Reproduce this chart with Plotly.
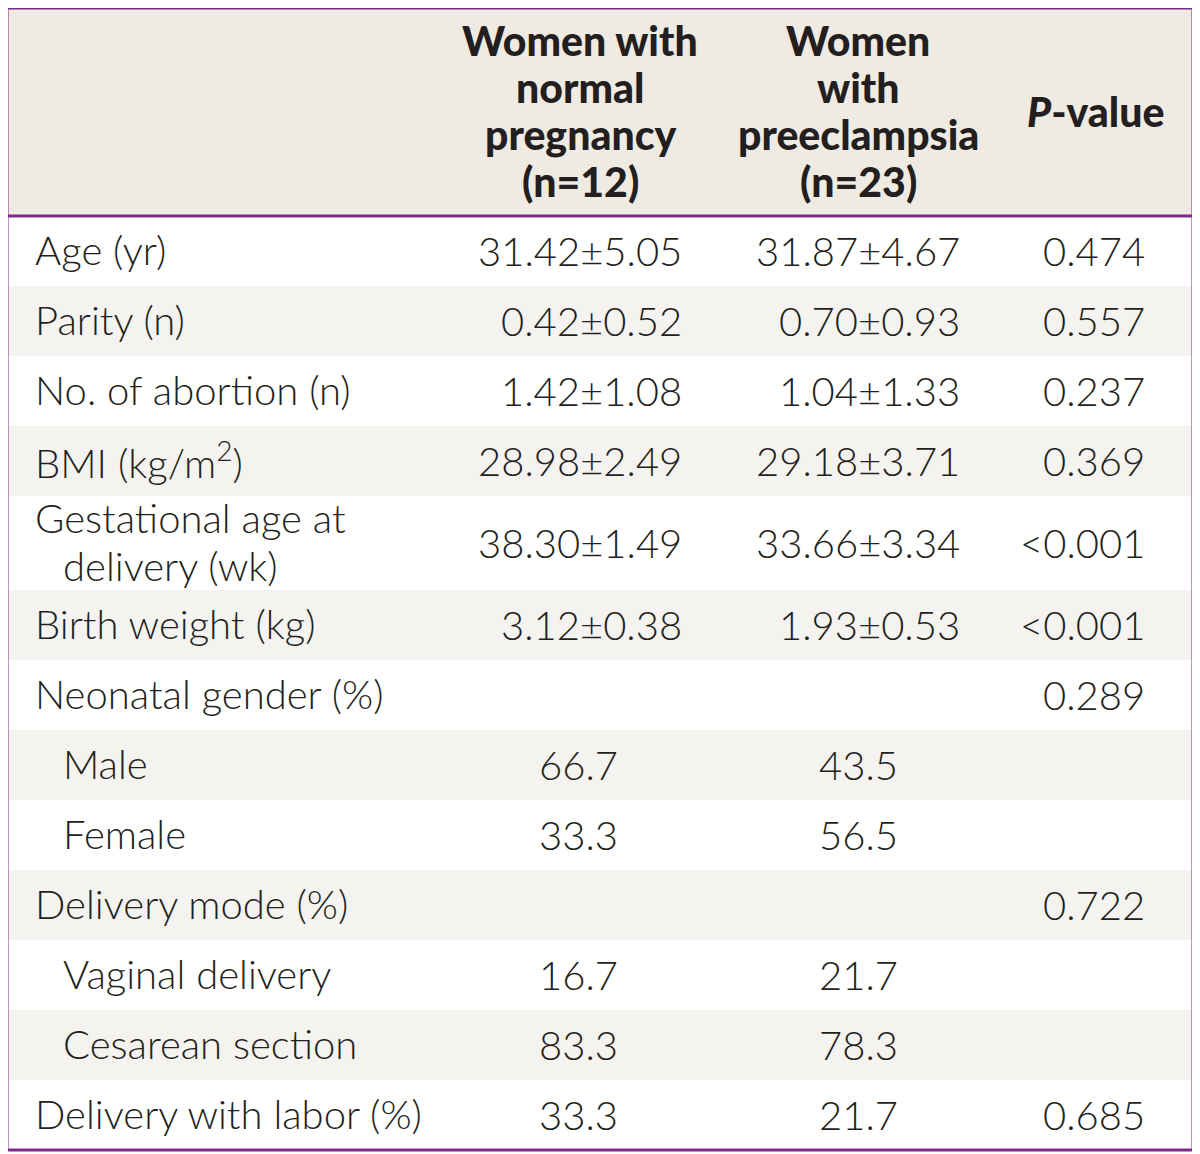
import plotly.graph_objects as go

# ---------------- data ----------------
header_cols = ["", "Women with<br>normal<br>pregnancy<br>(n=12)",
               "Women<br>with<br>preeclampsia<br>(n=23)", "<i>P</i>-value"]
row_labels = ["Age (yr)", "Parity (n)", "No. of abortion (n)", "BMI (kg/m<sup>2</sup>)",
              "Gestational age at<br>delivery (wk)", "Birth weight (kg)", "Neonatal gender (%)",
              "Male", "Female", "Delivery mode (%)", "Vaginal delivery", "Cesarean section",
              "Delivery with labor (%)"]
row_indent = [0, 0, 0, 0, 0, 0, 0, 1, 1, 0, 1, 1, 0]
normal_vals = ["31.42±5.05", "0.42±0.52", "1.42±1.08", "28.98±2.49", "38.30±1.49", "3.12±0.38",
               "", "66.7", "33.3", "", "16.7", "83.3", "33.3"]
pe_vals = ["31.87±4.67", "0.70±0.93", "1.04±1.33", "29.18±3.71", "33.66±3.34", "1.93±0.53",
           "", "43.5", "56.5", "", "21.7", "78.3", "21.7"]
p_vals = ["0.474", "0.557", "0.237", "0.369", "<0.001", "<0.001", "0.289",
          "", "", "0.722", "", "", "0.685"]

# ---------------- style / layout ----------------
W, H = 1200, 1154
OFF = 8  # page body margin compensation
LEFT, RIGHT, TOP = 7, 1193, 8
HEADER_H = 208
ROW_H = 70
TALL_H = 94
FONT = "Lato"
FS = 40
HFS = 41
TXT = "#231f20"
PURPLE = "#7b2d88"
HEAD_BG = "#efebe3"
ALT_BG = "#f5f3ef"

body_font = dict(family=FONT, size=FS, color=TXT, weight=300)
head_font = dict(family=FONT, size=HFS, color=TXT, weight=900)

fig = go.Figure()
fig.add_trace(go.Scatter(x=[OFF + 1, W - 1], y=[OFF + 1, H - 1], mode="markers",
                         marker=dict(opacity=0), hoverinfo="skip", showlegend=False))

shapes = []
ann = []

# header
shapes.append(dict(type="rect", x0=LEFT, x1=RIGHT, y0=TOP, y1=TOP + HEADER_H,
                   fillcolor=HEAD_BG, line=dict(width=0), layer="below"))
head_x = [None, 580, 858, 1095]
HEAD_LS = 47
head_center = 111
for i, h in enumerate(header_cols):
    if not h:
        continue
    lines = h.split("<br>")
    n = len(lines)
    for k, ln in enumerate(lines):
        ann.append(dict(x=head_x[i], y=head_center + (k - (n - 1) / 2) * HEAD_LS,
                        text=ln, showarrow=False, xanchor="center", yanchor="middle",
                        font=head_font))

# body rows
y = TOP + HEADER_H
for r, lab in enumerate(row_labels):
    lines = lab.split("<br>")
    h = TALL_H if len(lines) > 1 else ROW_H
    if r % 2 == 1:
        shapes.append(dict(type="rect", x0=LEFT, x1=RIGHT, y0=y, y1=y + h,
                           fillcolor=ALT_BG, line=dict(width=0), layer="below"))
    yc = y + h / 2
    n = len(lines)
    for k, ln in enumerate(lines):
        indent = 1 if (row_indent[r] or k > 0) else 0
        ly = yc + (k - (n - 1) / 2) * 48 - 1
        ann.append(dict(x=33 + 28 * indent, y=ly, text=ln, showarrow=False,
                        xanchor="left", yanchor="middle", font=body_font))
    for vals, xr, xc in ((normal_vals, 684, 578), (pe_vals, 962, 858)):
        v = vals[r]
        if not v:
            continue
        if "±" in v:
            ann.append(dict(x=xr, y=yc, text=v, showarrow=False, xanchor="right",
                            yanchor="middle", font=body_font))
        else:
            ann.append(dict(x=xc, y=yc, text=v, showarrow=False, xanchor="center",
                            yanchor="middle", font=body_font))
    if p_vals[r]:
        ann.append(dict(x=1147, y=yc, text=p_vals[r], showarrow=False, xanchor="right",
                        yanchor="middle", font=body_font))
    y += h

BOTTOM = y
shapes.append(dict(type="line", x0=LEFT, x1=RIGHT, y0=TOP + HEADER_H, y1=TOP + HEADER_H,
                   line=dict(color=PURPLE, width=3)))
shapes.append(dict(type="rect", x0=LEFT, x1=RIGHT, y0=TOP, y1=BOTTOM,
                   line=dict(color=PURPLE, width=3), fillcolor="rgba(0,0,0,0)"))

fig.update_layout(
    width=W, height=H, margin=dict(l=0, r=0, t=0, b=0),
    paper_bgcolor="white", plot_bgcolor="white",
    xaxis=dict(range=[OFF, W + OFF], visible=False, fixedrange=True),
    yaxis=dict(range=[H + OFF, OFF], visible=False, fixedrange=True),
    shapes=shapes, annotations=ann, showlegend=False,
)
fig.write_html("out.html")
